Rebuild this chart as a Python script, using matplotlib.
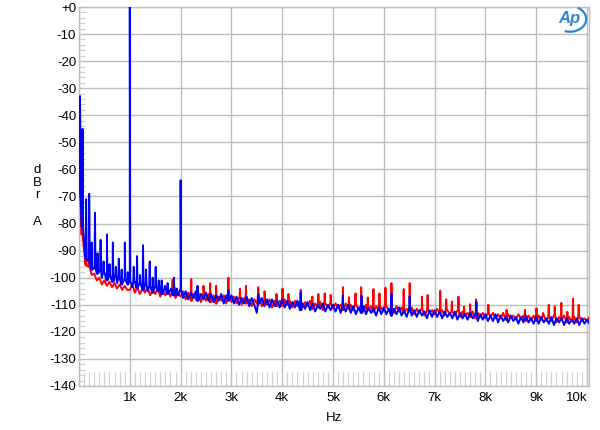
import numpy as np
import matplotlib
matplotlib.use("Agg")
import matplotlib.pyplot as plt
from matplotlib.patches import Arc
from matplotlib.ticker import MultipleLocator, FixedLocator

plt.rcParams['font.family'] = ['Liberation Sans', 'DejaVu Sans']

# ---------------- data ----------------
bin_step = 50  # Hz between noise-floor readings
blue_floor = [
    -68, -81, -87, -93, -94, -97, -96.5, -98.5, -97.5, -100, -98, -101, -99, -101.5, -99.5, -102, -100, -102.5, -100.5, -102.5,
    -101, -103.5, -101.5, -104, -102, -104.5, -102.5, -105, -103, -105.5, -103, -105, -103.5, -106, -104, -106, -104.5, -106.5, -104, -106.5,
    -104.5, -107.5, -105, -108, -105.5, -107.5, -105, -108.5, -106, -108, -105.5, -108.5, -106, -109, -106.5, -108.5, -106, -109.5, -106.5, -108.5,
    -106.5, -109.5, -107, -110, -107.5, -109.5, -107, -110.5, -107.5, -110, -113, -109.5, -107.5, -110.5, -108, -111, -108, -110.5, -108.5, -111,
    -108, -111, -108.5, -111.5, -109, -111, -108.5, -112, -109.5, -111.5, -109, -112, -109.5, -112.5, -110, -111.5, -109.5, -112.5, -110, -112,
    -110, -112.5, -110, -113, -110.5, -112.5, -110, -113, -110.5, -113.5, -111, -113, -110.5, -113.5, -111, -113, -111.5, -114, -111, -113.5,
    -111, -113.5, -111.5, -114, -111.5, -113.5, -111, -114, -112, -114.5, -111.5, -114, -112, -114.5, -112, -114, -112.5, -115, -112, -114.5,
    -112, -114.5, -112.5, -115, -112.5, -114.5, -113, -115, -112.5, -115.5, -113, -115, -113.5, -115.5, -113, -115, -113.5, -116, -113.5, -115.5,
    -113.5, -116, -114, -116, -113.5, -116.5, -114, -116, -114.5, -116.5, -114, -116, -114.5, -117, -114.5, -116.5, -114, -116.5, -115, -117,
    -114.5, -117, -114.5, -116.5, -115, -117, -114.5, -117.5, -115, -116.5, -115, -117.5, -115, -117, -115.5, -117, -115, -117.5, -115, -117,
    -115.5, -117, -115, -116.5, -115.5,
]
red_floor = [
    -70, -84, -90, -95.5, -96, -99, -98.5, -101, -100, -102.5, -101, -103, -101.5, -103.5, -102, -104, -102.5, -104.5, -103, -104.5,
    -104.5, -102.5, -105.5, -103.5, -106, -104, -105.5, -103.5, -106.5, -104.5, -106, -104, -107, -105, -106.5, -104.5, -107, -105, -107.5, -105.5,
    -107, -105, -108, -105.5, -108.5, -106, -108, -105.5, -109, -106.5, -108.5, -106, -109, -106.5, -109.5, -107, -108.5, -106.5, -109.5, -107,
    -109, -107, -109.5, -107.5, -110, -107.5, -109.5, -108, -110.5, -108, -109.5, -107.5, -110.5, -108.5, -110, -108, -111, -108.5, -110.5, -108.5,
    -110.5, -108, -110, -108.5, -111, -108.5, -110.5, -109, -111, -109, -110.5, -108.5, -111.5, -109.5, -111, -109, -112, -109.5, -111, -109.5,
    -111.5, -109.5, -111, -110, -112, -109.5, -111.5, -110, -112, -110, -111.5, -110.5, -112.5, -110, -112, -110.5, -112.5, -110.5, -112, -111,
    -112.5, -110.5, -112, -111, -113, -110.5, -112.5, -111, -113, -111.5, -112.5, -111, -113.5, -111.5, -113, -111.5, -114, -112, -113, -112,
    -113.5, -111.5, -113, -112, -114, -112, -113.5, -112.5, -114, -112, -114.5, -112.5, -114, -113, -114.5, -112.5, -115, -113, -114.5, -113,
    -115, -113, -114.5, -113, -115, -113.5, -115, -113, -115.5, -113.5, -115, -114, -115.5, -113.5, -115, -114, -116, -114, -115.5, -114,
    -116, -114, -115.5, -114, -116, -114.5, -116, -114, -116.5, -114.5, -115.5, -114, -116.5, -114.5, -116, -114.5, -116.5, -114.5, -116, -115,
    -116, -114.5, -115.5, -114.5, -115,
]

blue_spike_hz = [20, 70, 140, 200, 250, 315, 366, 425, 484, 550, 600, 667, 725, 784, 840, 902, 960,
                 1000, 1078, 1143, 1200, 1261, 1320, 1392, 1450, 1510, 1570, 1627, 1690, 1745, 1810,
                 1869, 1930, 2000, 2333, 2940, 3530, 4365, 5196, 5563, 6150, 6510, 7823]
blue_spike_db = [-33, -45, -71, -69, -87, -76, -91, -86, -94, -84, -95, -87, -96, -93, -97, -87, -98,
                 0, -96, -92, -99, -88, -97, -94, -100, -96, -101, -101, -103, -102, -104,
                 -100, -104, -64, -103, -104.5, -106, -105.4, -106.7, -106.7, -106, -106.9, -108.9]

red_spike_hz = [20, 60, 140, 200, 1843, 2210, 2450, 2582, 2700, 2941, 3170, 3287, 3529, 3653, 3888, 4006,
                4124, 4365, 4594, 4712, 4837, 4954, 5196, 5314, 5444, 5555, 5686, 5797, 5915,
                6033, 6150, 6392, 6510, 6750, 6863, 7112, 7229, 7340, 7470, 7582, 7700, 7817,
                8059, 8418, 8778, 9006, 9137, 9249, 9366, 9496, 9614, 9725, 9837]
red_spike_db = [-33, -72, -82, -86, -100.7, -100.5, -103, -102, -103, -100, -104, -103, -103.5, -105, -106, -104,
                -106, -104.5, -107, -106, -105.8, -106.4, -103.5, -107.2, -105.8, -103.5, -107.3, -104.2, -105.8,
                -103.7, -102, -104.2, -102, -107, -106.4, -104.8, -108, -108.8, -107, -110.7, -109.8, -108,
                -110, -111.9, -111.9, -111.3, -113, -110, -110.7, -109.3, -112.6, -107.8, -110]

x_ticks = [0, 1000, 2000, 3000, 4000, 5000, 6000, 7000, 8000, 9000, 10000]
x_labels = ['', '1k', '2k', '3k', '4k', '5k', '6k', '7k', '8k', '9k', '10k']
y_ticks = [0, -10, -20, -30, -40, -50, -60, -70, -80, -90, -100, -110, -120, -130, -140]
y_labels = ['+0', '-10', '-20', '-30', '-40', '-50', '-60', '-70', '-80', '-90', '-100',
            '-110', '-120', '-130', '-140']


def trace(floor, spike_hz, spike_db, half_width=9):
    """Noise floor line with narrow spikes standing on the nearest floor reading."""
    floor = np.asarray(floor, float)
    f = np.arange(len(floor)) * bin_step
    xs, ys = list(f), list(floor)
    for sf, sd in zip(spike_hz, spike_db):
        base = floor[int(round(sf / bin_step))]
        xs += [sf - half_width, sf, sf + half_width]
        ys += [base, sd, base]
    xs = np.array(xs)
    ys = np.array(ys)
    order = np.argsort(xs, kind='stable')
    return xs[order], ys[order]


# ---------------- figure ----------------
fig = plt.figure(figsize=(6.0, 4.3), dpi=100)
ax = fig.add_axes([79 / 600, 1 - 386 / 430, 510 / 600, 379 / 430])

rf, rd = trace(red_floor, red_spike_hz, red_spike_db)
bf, bd = trace(blue_floor, blue_spike_hz, blue_spike_db)
ax.plot(rf, rd, color='#ff0000', lw=1.4, zorder=3)
ax.plot(bf, bd, color='#0000ff', lw=1.4, zorder=4)

ax.set_xlim(0, 10040)
ax.set_ylim(-140, 0)
ax.xaxis.set_major_locator(FixedLocator(x_ticks))
ax.set_xticklabels(x_labels)
ax.yaxis.set_major_locator(FixedLocator(y_ticks))
ax.set_yticklabels(y_labels)
ax.xaxis.set_minor_locator(MultipleLocator(100))
ax.yaxis.set_minor_locator(MultipleLocator(2))

ax.grid(True, which='major', color='#bdbdbd', lw=1.0, zorder=1)
ax.tick_params(axis='both', which='major', length=0, labelsize=9.5, colors='black')
ax.tick_params(axis='y', which='major', pad=2)
ax.tick_params(axis='x', which='major', pad=4)
ax.tick_params(axis='x', which='minor', direction='in', length=10, width=0.8, color='#cfcfcf')
ax.tick_params(axis='y', which='minor', direction='in', length=4, width=0.8, color='#cfcfcf')
for s in ax.spines.values():
    s.set_color('#bdbdbd')
    s.set_linewidth(1.0)

lbls = ax.get_xticklabels()
lbls[-1].set_horizontalalignment('right')

ax.set_xlabel('Hz', fontsize=9.5, labelpad=6)

for ch, yp in zip(['d', 'B', 'r', 'A'], [170, 183, 195, 222]):
    fig.text(37 / 600, 1 - yp / 430, ch, fontsize=9.5, ha='center', va='center')

# Ap logo
fig.text(569 / 600, 1 - 18 / 430, 'Ap', fontsize=12, fontstyle='italic', fontweight='bold',
         color='#2a86d6', ha='center', va='center')
logo_ax = fig.add_axes([552 / 600, 1 - 34 / 430, 36 / 600, 30 / 430])
logo_ax.set_xlim(0, 1)
logo_ax.set_ylim(0, 1)
logo_ax.axis('off')
logo_ax.add_patch(Arc((0.5, 0.5), 0.9, 0.85, theta1=-110, theta2=60, color='#2a86d6', lw=1.6))

fig.savefig('out.png', dpi=100)
